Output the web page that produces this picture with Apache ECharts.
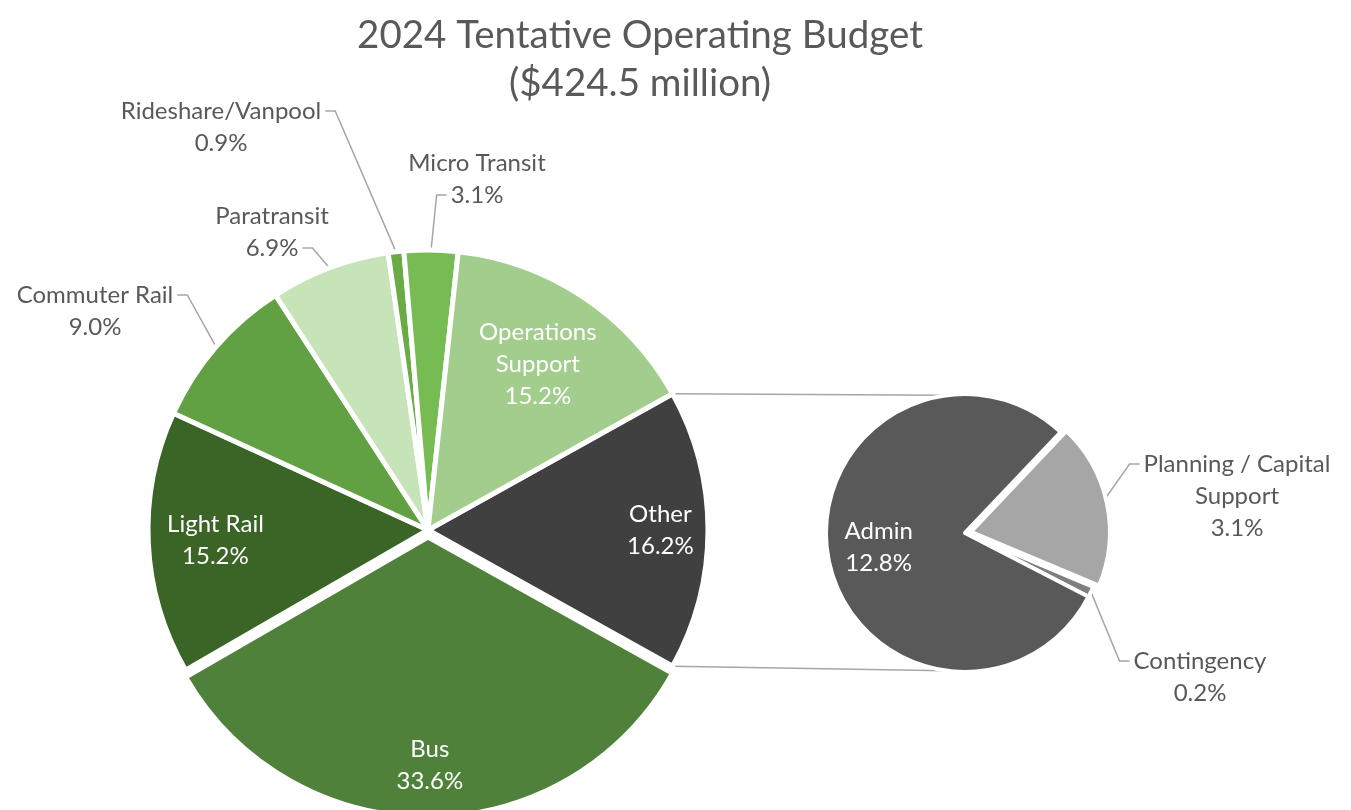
<!DOCTYPE html>
<html><head><meta charset="utf-8">
<script src="https://cdn.jsdelivr.net/npm/echarts@6/dist/echarts.min.js"></script>
<style>html,body{margin:0;padding:0;background:#fff}#c{width:1351px;height:810px}</style>
</head><body><div id="c"></div>
<script>
// ---- data ----
const titleLines = ['2024 Tentative Operating Budget', '($424.5 million)'];
const mainNames = ['Other', 'Bus', 'Light Rail', 'Commuter Rail', 'Paratransit', 'Rideshare/Vanpool', 'Micro Transit', 'Operations\nSupport'];
const mainValues = [16.2, 33.6, 15.2, 9.0, 6.9, 0.9, 3.1, 15.2];
const subNames = ['Planning / Capital\nSupport', 'Contingency', 'Admin'];
const subValues = [3.1, 0.2, 12.8];

// ---- styles / layout ----
const FONT = 'Lato';
const FS = 24, LH = 32;
const TXT = '#595959';
const LINE = '#a6a6a6';
const COLORS = {
  'Other': '#404040', 'Bus': '#50813a', 'Light Rail': '#3b6427', 'Commuter Rail': '#62a143',
  'Paratransit': '#c7e3b8', 'Rideshare/Vanpool': '#6aab45', 'Micro Transit': '#77bc53',
  'Operations\nSupport': '#a2cd8c',
  'Planning / Capital\nSupport': '#a6a6a6', 'Contingency': '#7f7f7f', 'Admin': '#595959'
};
// inside labels: distance from centre as a fraction of the radius
const INSIDE_R = { 'Other': 0.83, 'Bus': 0.84, 'Light Rail': 0.76, 'Operations\nSupport': 0.71, 'Admin': 0.63 };
// outside labels: block centre, and which side / text line the leader line attaches to
const LABEL_POS = {
  'Commuter Rail': [95, 311], 'Paratransit': [272, 232], 'Rideshare/Vanpool': [221, 127],
  'Micro Transit': [477, 179], 'Planning / Capital\nSupport': [1237, 496], 'Contingency': [1200, 677]
};
const LEADER = {
  'Commuter Rail': ['right', 0], 'Paratransit': ['right', 1], 'Rideshare/Vanpool': ['right', 0],
  'Micro Transit': ['left', 1], 'Planning / Capital\nSupport': ['left', 0], 'Contingency': ['left', 0]
};
const M = { cx: 428, cy: 530, r: 280 };
const S = { cx: 965, cy: 533, r: 139 };
const SUB_START = 46.5;

const sum = a => a.reduce((x, y) => x + y, 0);
const mainStart = 360 * mainValues[0] / sum(mainValues) / 2;
const labelText = (n, v) => n + '\n' + v.toFixed(1) + '%';

const ctx = document.createElement('canvas').getContext('2d');
ctx.font = FS + 'px ' + FONT;
const measure = s => ctx.measureText(s).width;

function mids(values, start) {
  const tot = sum(values); let acc = 0;
  return values.map(v => { const m = start - 360 * (acc + v / 2) / tot; acc += v; return m * Math.PI / 180; });
}
function makeLayout(names, values, G, start) {
  const m = mids(values, start);
  return p => {
    const i = p.dataIndex, n = names[i];
    if (INSIDE_R[n] != null) {
      const R = INSIDE_R[n] * G.r;
      return { x: G.cx + R * Math.cos(m[i]), y: G.cy - R * Math.sin(m[i]), align: 'center', verticalAlign: 'middle' };
    }
    const pos = LABEL_POS[n];
    if (!pos) return {};
    const side = LEADER[n][0], k = LEADER[n][1];
    const lines = labelText(n, values[i]).split('\n');
    const ly = pos[1] - lines.length * LH / 2 + LH * (k + 0.5);
    const w = measure(lines[k]);
    const ax = side === 'right' ? pos[0] + w / 2 + 4 : pos[0] - w / 2 - 4;
    const bx = side === 'right' ? ax + 10 : ax - 10;
    const e = [G.cx + G.r * Math.cos(m[i]), G.cy - G.r * Math.sin(m[i])];
    return { x: pos[0], y: pos[1], align: 'center', verticalAlign: 'middle', labelLinePoints: [e, [bx, ly], [ax, ly]] };
  };
}
function sliceItems(names, values, selectedName) {
  return names.map((n, i) => ({ name: n, value: values[i], selected: n === selectedName, itemStyle: { color: COLORS[n] } }));
}
function labelItems(names, values) {
  return names.map((n, i) => {
    const inside = INSIDE_R[n] != null, out = !!LABEL_POS[n];
    return {
      name: n, value: values[i],
      label: { show: inside || out, position: inside ? 'inside' : 'outside', color: inside ? '#fff' : TXT },
      labelLine: { show: out }
    };
  });
}
const baseLabel = { fontSize: FS, lineHeight: LH, fontFamily: FONT, formatter: p => labelText(p.name, p.value) };
const baseLine = { length: 10, length2: 10, lineStyle: { color: LINE, width: 1.5 } };

// connector lines computed from pie geometry
const half = mainStart * Math.PI / 180;
const subAng = -98 * Math.PI / 180;
const connectors = [1, -1].map(s => ({
  type: 'line', silent: true,
  shape: {
    x1: M.cx + M.r * Math.cos(half), y1: M.cy - s * M.r * Math.sin(half),
    x2: S.cx + S.r * Math.cos(subAng), y2: S.cy + s * S.r * Math.sin(subAng)
  },
  style: { stroke: LINE, lineWidth: 1.5 }
}));

const chart = echarts.init(document.getElementById('c'), null, { renderer: 'canvas' });
chart.setOption({
  animation: false,
  backgroundColor: '#fff',
  title: {
    text: titleLines.join('\n'), left: 635, top: 7, textAlign: 'center',
    textStyle: { fontFamily: FONT, fontSize: 38.5, lineHeight: 48, color: TXT, fontWeight: 'normal' }
  },
  graphic: connectors,
  series: [
    { // main pie slices
      type: 'pie', center: [M.cx, M.cy], radius: M.r, startAngle: mainStart, clockwise: true,
      selectedMode: 'single', selectedOffset: 7, emphasis: { disabled: true },
      itemStyle: { borderColor: '#fff', borderWidth: 5 },
      label: { show: false }, labelLine: { show: false },
      data: sliceItems(mainNames, mainValues, 'Bus')
    },
    { // main pie labels
      type: 'pie', center: [M.cx, M.cy], radius: M.r, startAngle: mainStart, clockwise: true, silent: true,
      avoidLabelOverlap: false, itemStyle: { color: 'rgba(0,0,0,0)' },
      label: baseLabel, labelLine: baseLine,
      labelLayout: makeLayout(mainNames, mainValues, M, mainStart),
      data: labelItems(mainNames, mainValues)
    },
    { // secondary pie slices
      type: 'pie', center: [S.cx, S.cy], radius: S.r, startAngle: SUB_START, clockwise: true,
      selectedMode: 'single', selectedOffset: 6, emphasis: { disabled: true },
      itemStyle: { borderColor: '#fff', borderWidth: 4 },
      label: { show: false }, labelLine: { show: false },
      data: sliceItems(subNames, subValues, 'Planning / Capital\nSupport')
    },
    { // secondary pie labels
      type: 'pie', center: [S.cx, S.cy], radius: S.r, startAngle: SUB_START, clockwise: true, silent: true,
      avoidLabelOverlap: false, itemStyle: { color: 'rgba(0,0,0,0)' },
      label: baseLabel, labelLine: baseLine,
      labelLayout: makeLayout(subNames, subValues, S, SUB_START),
      data: labelItems(subNames, subValues)
    }
  ]
});
</script></body></html>
